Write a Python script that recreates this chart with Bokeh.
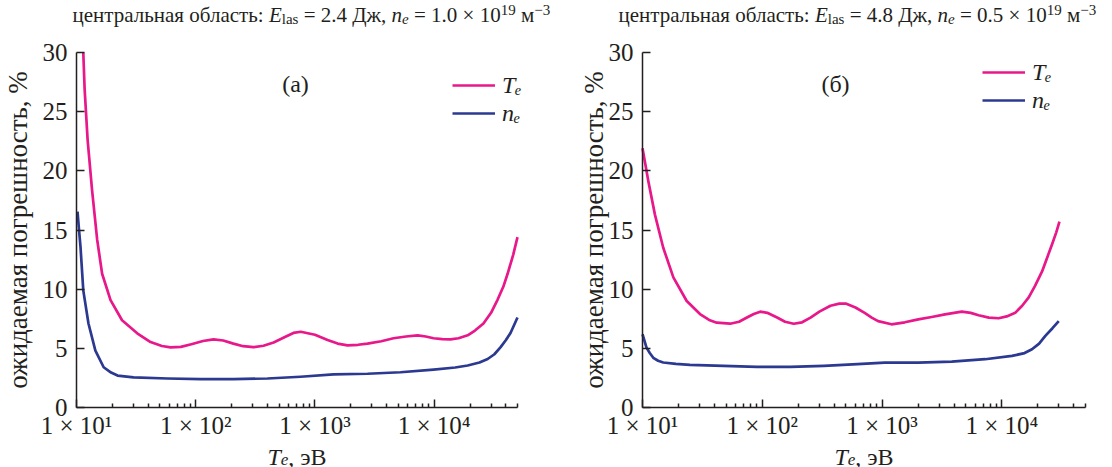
import glob
import math
import subprocess

from bokeh.plotting import figure
from bokeh.layouts import row
from bokeh.models import Range1d, FixedTicker, Label, Legend, LegendItem
from bokeh.embed import file_html
from bokeh.resources import INLINE

# ---------------- data ----------------
# panel (а): E_las = 2.4 J, n_e = 1.0e19
te_a_T = [11.4, 11.7, 12.4, 13.5, 14.9, 16.4, 19.3, 24.1, 32.3, 41.8, 52, 61.5, 75, 92, 115,
          141, 170, 207, 250, 305, 370, 450, 560, 660, 760, 1000, 1276, 1550, 1877, 2300,
          2760, 3600, 4560, 5800, 7260, 8500, 9890, 11700, 13700, 16000, 19100, 22000,
          25900, 30000, 34000, 38000, 41300, 46000, 50000]
te_a_err = [30.0, 26.9, 22.6, 18.4, 14.2, 11.3, 9.07, 7.37, 6.27, 5.53, 5.2, 5.08, 5.12, 5.35,
            5.62, 5.75, 5.66, 5.4, 5.18, 5.1, 5.22, 5.5, 5.95, 6.3, 6.4, 6.15, 5.7, 5.4, 5.25,
            5.3, 5.4, 5.6, 5.85, 6.0, 6.1, 6.0, 5.85, 5.78, 5.75, 5.85, 6.1, 6.5, 7.1, 8.0,
            9.1, 10.2, 11.3, 12.9, 14.4]
ne_a_T = [10.2, 10.5, 10.8, 11.4, 12.6, 14.4, 16.9, 19.5, 22.1, 30.1, 57.9, 110, 207, 400,
          757, 1432, 2760, 5220, 9890, 15000, 19100, 24000, 28100, 32000, 36100, 40000,
          43700, 50000]
ne_a_err = [16.55, 15.0, 13.6, 9.9, 7.1, 4.8, 3.4, 2.95, 2.7, 2.54, 2.45, 2.4, 2.4, 2.45,
            2.6, 2.8, 2.85, 2.98, 3.2, 3.38, 3.55, 3.8, 4.1, 4.5, 5.1, 5.7, 6.3, 7.6]
# panel (б): E_las = 4.8 J, n_e = 0.5e19
te_b_T = [10, 11.2, 12.7, 14.9, 18.1, 23.4, 30.2, 36, 41.7, 53.9, 64, 74.5, 85, 96.2, 110,
          133, 155, 183, 215, 253, 300, 371, 440, 503, 600, 716, 820, 927, 1199, 1550, 2009,
          2600, 3357, 4634, 5500, 6399, 7800, 9405, 11000, 12950, 14800, 16780, 19000,
          21700, 24000, 26300, 28500, 30300]
te_b_err = [21.9, 19.1, 16.3, 13.5, 11.0, 9.0, 7.9, 7.4, 7.17, 7.08, 7.25, 7.6, 7.9, 8.1, 8.0,
            7.6, 7.25, 7.08, 7.2, 7.6, 8.1, 8.6, 8.78, 8.77, 8.45, 8.0, 7.6, 7.3, 7.03, 7.2,
            7.45, 7.65, 7.87, 8.1, 8.0, 7.8, 7.6, 7.54, 7.7, 8.0, 8.6, 9.3, 10.3, 11.5, 12.7,
            13.8, 14.8, 15.7]
ne_b_T = [10, 10.8, 11.5, 12.3, 13.5, 14.9, 19, 24.9, 47.4, 90.3, 172, 327, 623, 1054, 2009,
          3820, 7260, 12160, 15500, 17870, 20500, 23100, 26500, 29900]
ne_b_err = [6.19, 5.06, 4.6, 4.2, 3.95, 3.8, 3.68, 3.6, 3.52, 3.43, 3.43, 3.52, 3.66, 3.8, 3.8,
            3.88, 4.08, 4.36, 4.6, 4.92, 5.4, 6.05, 6.7, 7.3]

x_major = [10, 100, 1000, 10000]
x_major_labels = ["1 × 10¹", "1 × 10²", "1 × 10³", "1 × 10⁴"]
x_minor = [m * d for d in (10, 100, 1000, 10000) for m in range(2, 10) if m * d <= 50000]
x_lim = (10, 50000)
y_ticks = [0, 5, 10, 15, 20, 25, 30]
y_lim = (0, 30)
y_label = "ожидаемая погрешность, %"
panel_tags = ["(а)", "(б)"]
legend_names = ["Tₑ", "nₑ"]

TEXT = "#231F20"
PINK = "#E8178A"
BLUE = "#2B3990"
SERIF = "Liberation Serif"
H = 467
M = 21          # title font size
YLAB = 27       # y-axis title font size


# ---------------- text measuring helpers ----------------
def _find_font(style):
    names = {"normal": "LiberationSerif-Regular.ttf", "italic": "LiberationSerif-Italic.ttf"}
    c = glob.glob("/usr/share/fonts/**/" + names[style], recursive=True)
    if c:
        return c[0]
    try:
        spec = "Liberation Serif" + (":italic" if style == "italic" else "")
        out = subprocess.run(["fc-match", "-f", "%{file}", spec], capture_output=True,
                             text=True, timeout=5).stdout.strip()
        if out:
            return out
    except Exception:
        pass
    return None


_fonts = {}


def tw(s, size, style="normal"):
    try:
        from PIL import ImageFont
        key = (style, size)
        if key not in _fonts:
            _fonts[key] = ImageFont.truetype(_find_font(style), size)
        return _fonts[key].getlength(s)
    except Exception:
        return 0.5 * size * len(s)


def rich(p, x, y, segs, align="left"):
    total = sum(tw(t, sz, st) for t, st, sz, dy in segs)
    if align == "center":
        x -= total / 2
    for t, st, sz, dy in segs:
        lead = len(t) - len(t.lstrip(" "))
        s = t.strip(" ")
        xs = x + tw(" " * lead, sz, st) if lead else x
        if s:
            p.add_layout(Label(x=xs, y=y + dy, x_units="canvas", y_units="canvas",
                               text=s, text_font=SERIF, text_font_style=st,
                               text_font_size=f"{sz}px", text_color=TEXT,
                               text_align="left", text_baseline="alphabetic"))
        x += tw(t, sz, st)
    return total


def title_segs(e_val, n_val):
    S = round(M * 0.7)
    return [("центральная область: ", "normal", M, 0), ("E", "italic", M, 0),
            ("las", "normal", S, 4), (f" = {e_val} Дж, ", "normal", M, 0),
            ("n", "italic", M, 0), ("e", "italic", S, 4),
            (f" = {n_val} × 10", "normal", M, 0), ("19", "normal", S, -5),
            (" м", "normal", M, 0), ("−3", "normal", S, -5)]


def make_panel(width, fx0, fx1, fy_top, fy_bot, te_T, te_err, ne_T, ne_err, std):
    # frame covers the whole canvas; axes are pinned at x=10 / y=0
    lx0, lx1 = math.log10(x_lim[0]), math.log10(x_lim[1])
    per = (lx1 - lx0) / (fx1 - fx0)
    xr = Range1d(10 ** (lx0 - fx0 * per), 10 ** (lx1 + (width - fx1) * per))
    pery = (y_lim[1] - y_lim[0]) / (fy_bot - fy_top)
    yr = Range1d(y_lim[0] - (H - fy_bot) * pery, y_lim[1] + fy_top * pery)
    p = figure(width=width, height=H, x_axis_type="log", x_range=xr, y_range=yr,
               output_backend="svg", toolbar_location=None,
               min_border_left=0, min_border_right=0, min_border_top=0, min_border_bottom=0)
    p.outline_line_color = None
    p.grid.visible = False
    p.background_fill_color = "white"
    for ax in (p.xaxis[0], p.yaxis[0]):
        ax.axis_line_color = TEXT
        ax.axis_line_width = 1.5
        ax.major_tick_line_color = TEXT
        ax.minor_tick_line_color = TEXT
        ax.major_tick_line_width = 1.5
        ax.minor_tick_line_width = 1.5
        ax.major_tick_in = 8
        ax.major_tick_out = 0
        ax.minor_tick_in = 4
        ax.minor_tick_out = 0
        ax.major_label_text_font = SERIF
        ax.major_label_text_font_size = "25px"
        ax.major_label_text_color = TEXT
    p.xaxis.fixed_location = y_lim[0]
    p.xaxis.bounds = x_lim
    p.xaxis.ticker = FixedTicker(ticks=x_major, minor_ticks=x_minor)
    p.xaxis.major_label_overrides = dict(zip(x_major, x_major_labels))
    p.xaxis.major_label_standoff = 4
    p.yaxis.fixed_location = x_lim[0]
    p.yaxis.bounds = y_lim
    p.yaxis.ticker = FixedTicker(ticks=y_ticks)
    p.yaxis.minor_tick_line_color = None
    p.yaxis.major_label_standoff = 9
    p.yaxis.axis_label = y_label
    p.yaxis.axis_label_text_font = SERIF
    p.yaxis.axis_label_text_font_style = "normal"
    p.yaxis.axis_label_text_font_size = f"{YLAB}px"
    p.yaxis.axis_label_text_color = TEXT
    p.yaxis.axis_label_standoff = std

    r1 = p.line(te_T, te_err, line_color=PINK, line_width=2.7, line_join="round")
    r2 = p.line(ne_T, ne_err, line_color=BLUE, line_width=2.7, line_join="round")
    return p, r1, r2


p1, a1, a2 = make_panel(566, 76, 517, 52, 407, te_a_T, te_a_err, ne_a_T, ne_a_err, 7)
p2, b1, b2 = make_panel(546, 76, 519, 52, 407, te_b_T, te_b_err, ne_b_T, ne_b_err, -3)

for p, (r1, r2), loc in ((p1, (a1, a2), (452, 340)), (p2, (b1, b2), (416, 353))):
    lg = Legend(items=[LegendItem(label=legend_names[0], renderers=[r1]),
                       LegendItem(label=legend_names[1], renderers=[r2])],
                location=loc, orientation="vertical",
                label_text_font=SERIF, label_text_font_style="italic",
                label_text_font_size="24px", label_text_color=TEXT,
                glyph_width=43, glyph_height=28, label_height=28, spacing=0,
                padding=0, margin=0, label_standoff=7,
                border_line_color=None, background_fill_alpha=0)
    p.add_layout(lg)

# titles
rich(p1, 72, 14.5, title_segs("2.4", "1.0"))
rich(p2, 52, 14.5, title_segs("4.8", "0.5"))

# x axis titles
xt = [("T", "italic", 24, 0), ("e", "italic", 17, 3), (", эВ", "normal", 24, 0)]
rich(p1, 296.5, 456, xt, align="center")
rich(p2, 297.5, 456, xt, align="center")

# panel tags
for p, x, tag in ((p1, 295, panel_tags[0]), (p2, 269, panel_tags[1])):
    p.add_layout(Label(x=x, y=83, x_units="canvas", y_units="canvas", text=tag,
                       text_font=SERIF, text_font_size="24px", text_color=TEXT,
                       text_align="center", text_baseline="middle"))

layout = row(p1, p2)
open("out.html", "w").write(file_html(layout, INLINE))
